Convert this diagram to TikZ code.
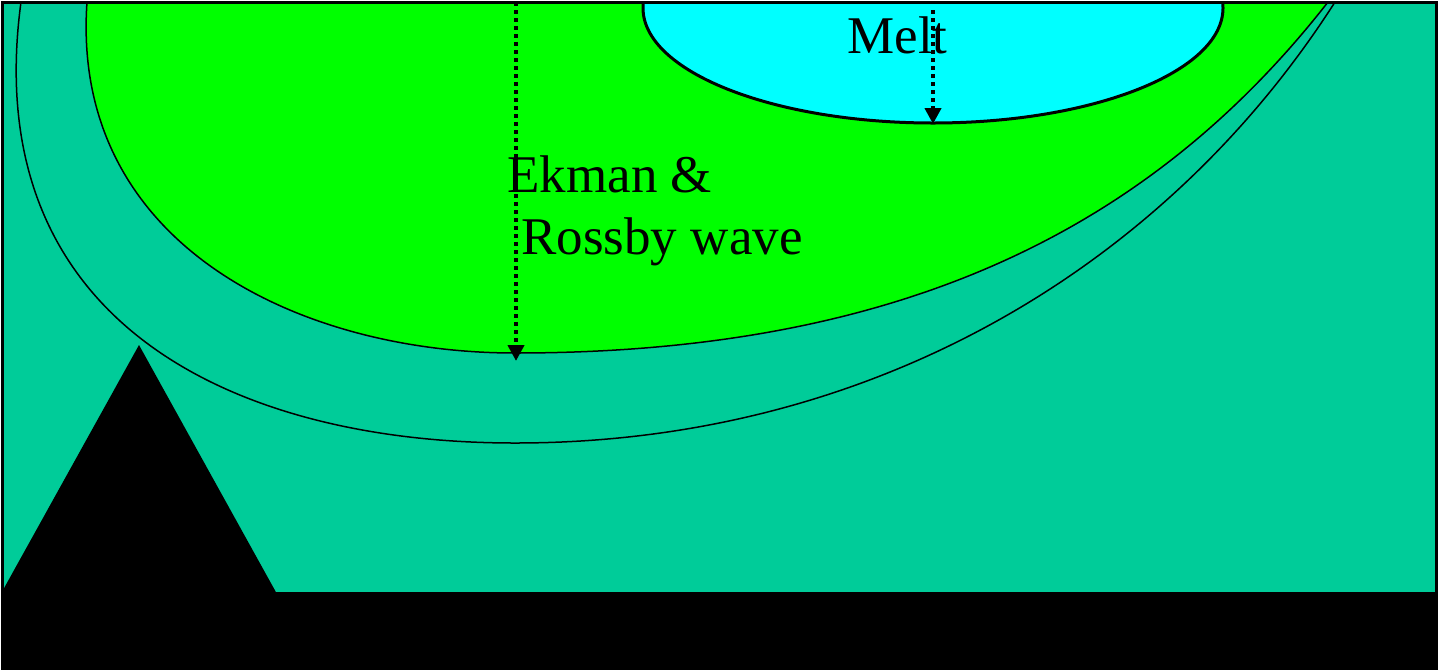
\documentclass[tikz,border=0pt]{standalone}
\usepackage{fontspec}
\setmainfont{Liberation Serif}
\usetikzlibrary{arrows.meta}
\definecolor{sea}{RGB}{0,204,153}
\definecolor{gyre}{RGB}{0,255,0}
\definecolor{ice}{RGB}{0,255,255}
\tikzset{
  thinline/.style={line width=0.75pt},
  flowarrow/.style={line width=2pt, dash pattern=on 2pt off 2pt, -{Triangle[width=8pt,length=8pt]}},
  lbl/.style={inner sep=0pt, anchor=base west, font=\fontsize{26.5}{32}\selectfont}
}
\begin{document}
\begin{tikzpicture}[x=0.5pt,y=-0.5pt]
\useasboundingbox (0,0) rectangle (1439,670);
\fill[sea] (2,2) rectangle (1436,668);
% outer contour
\draw[thinline] (21,2) .. controls (-22,320) and (230,443) .. (515,443)
  .. controls (880,443) and (1170,260) .. (1335,2);
% green region
\filldraw[gyre, draw=black, thinline] (87,2) .. controls (70,245) and (300,353) .. (515,353)
  .. controls (900,353) and (1150,230) .. (1328,2) -- cycle;
% melt ellipse
\begin{scope}
\clip (2,2) rectangle (1436,668);
\filldraw[ice, draw=black, line width=1.5pt] (933,8) ellipse [x radius=290, y radius=115];
\end{scope}
% topography
\fill[black] (3,594) -- (3,590) -- (139,345) -- (277,594) -- cycle;
\fill[black] (2,592) rectangle (1437,668);
% arrows
\coordinate (ekTop) at (516,2);
\coordinate (ekBot) at (516,361);
\coordinate (meTop) at (933,10);
\coordinate (meBot) at (933,124);
\draw[flowarrow] (ekTop) -- (ekBot);
\draw[flowarrow] (meTop) -- (meBot);
% labels
\node[lbl] (ek1) at (507,192) {Ekman \&};
\node[lbl] (ek2) at (521,254) {Rossby wave};
\node[lbl] (melt) at (847,53) {Melt};
% frame
\draw[line width=1.5pt] (2,2) rectangle (1436,668);
\end{tikzpicture}
\end{document}
